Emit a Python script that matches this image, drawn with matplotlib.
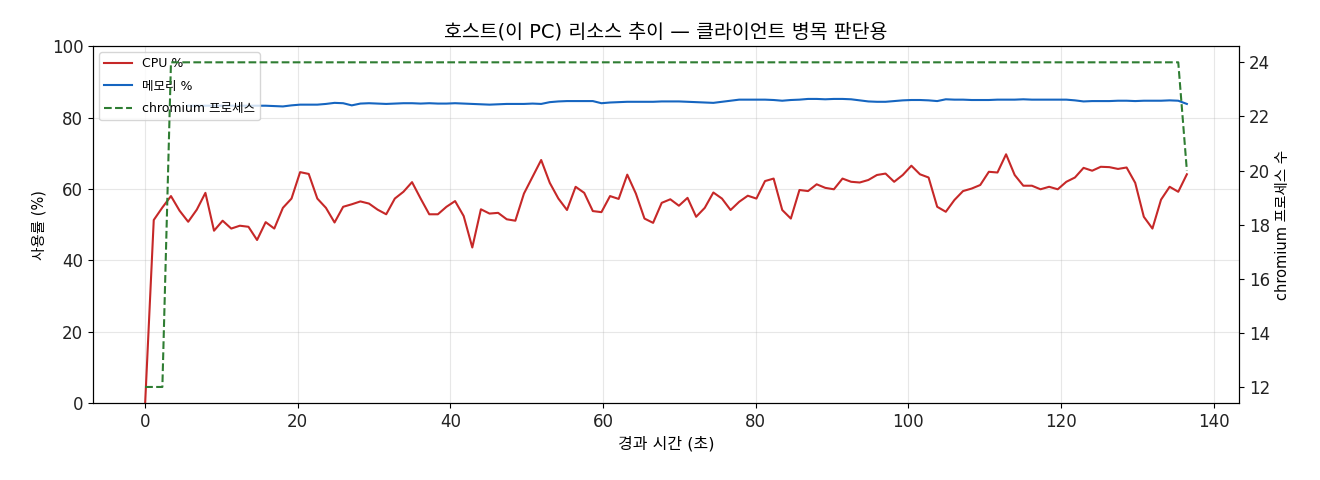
import numpy as np
import matplotlib
matplotlib.use("Agg")
import matplotlib.pyplot as plt

plt.rcParams['font.family'] = ['DejaVu Sans', 'Noto Sans CJK KR']
plt.rcParams['axes.unicode_minus'] = False

sample_interval = 1.128

cpu = [0.0, 51.3, 54.8, 58.0, 53.9, 50.8, 54.2, 58.9, 48.3, 51.1,
       48.9, 49.7, 49.4, 45.7, 50.7, 48.9, 54.7, 57.3, 64.7, 64.2,
       57.3, 54.7, 50.6, 55.0, 55.7, 56.5, 55.9, 54.2, 52.9, 57.3,
       59.2, 61.9, 57.3, 52.9, 52.9, 55.0, 56.6, 52.4, 43.6, 54.3,
       53.1, 53.3, 51.5, 51.1, 58.7, 63.4, 68.1, 61.7, 57.3, 54.1,
       60.6, 58.9, 53.8, 53.5, 58.0, 57.2, 64.0, 58.7, 51.7, 50.5,
       56.1, 57.1, 55.3, 57.5, 52.2, 54.7, 59.0, 57.3, 54.1, 56.4,
       58.1, 57.3, 62.2, 62.9, 54.1, 51.7, 59.7, 59.4, 61.3, 60.3,
       59.9, 62.9, 62.0, 61.8, 62.5, 63.9, 64.3, 62.0, 63.9, 66.5,
       64.1, 63.2, 55.0, 53.6, 56.9, 59.4, 60.1, 61.1, 64.8, 64.6,
       69.7, 63.9, 60.9, 60.9, 59.9, 60.6, 59.9, 62.0, 63.2, 65.9,
       65.1, 66.2, 66.1, 65.6, 66.0, 61.7, 52.2, 48.9, 57.0, 60.6,
       59.2, 64.1]

memory = [np.nan, np.nan, np.nan, np.nan, np.nan, 83.3, 83.3, 83.3, 83.3, 83.3,
          83.3, 83.3, 83.3, 83.3, 83.3, 83.2, 83.1, 83.4, 83.6, 83.6,
          83.6, 83.8, 84.1, 84.0, 83.4, 83.9, 84.0, 83.9, 83.8, 83.9,
          84.0, 84.0, 83.9, 84.0, 83.9, 83.9, 84.0, 83.9, 83.8, 83.7,
          83.6, 83.7, 83.8, 83.8, 83.8, 83.9, 83.8, 84.3, 84.5, 84.6,
          84.6, 84.6, 84.6, 84.0, 84.2, 84.3, 84.4, 84.4, 84.4, 84.4,
          84.5, 84.5, 84.5, 84.4, 84.3, 84.2, 84.1, 84.4, 84.7, 85.0,
          85.0, 85.0, 85.0, 84.9, 84.7, 84.9, 85.0, 85.2, 85.2, 85.1,
          85.2, 85.2, 85.1, 84.8, 84.5, 84.4, 84.4, 84.6, 84.8, 84.9,
          84.9, 84.8, 84.6, 85.1, 85.0, 85.0, 84.9, 84.9, 84.9, 85.0,
          85.0, 85.0, 85.1, 85.0, 85.0, 85.0, 85.0, 85.0, 84.8, 84.5,
          84.6, 84.6, 84.6, 84.7, 84.7, 84.6, 84.7, 84.7, 84.7, 84.8,
          84.7, 83.8]

chromium = [12, 12, 12] + [24] * 118 + [20]

elapsed = np.arange(len(cpu)) * sample_interval

fig, ax = plt.subplots(figsize=(13.2, 4.8), dpi=100)
l1, = ax.plot(elapsed, cpu, color='#c62828', lw=1.5, label='CPU %')
l2, = ax.plot(elapsed, memory, color='#1565c0', lw=1.5, label='메모리 %')
ax.set_ylim(0, 100)
ax.set_xlabel('경과 시간 (초)', fontsize=11.5)
ax.set_ylabel('사용률 (%)', fontsize=10.5)
ax.grid(True, alpha=0.3)
ax.set_xticks([0, 20, 40, 60, 80, 100, 120, 140])
ax.tick_params(labelsize=12, labelcolor='#222222')

ax2 = ax.twinx()
l3, = ax2.plot(elapsed, chromium, color='#2e7d32', lw=1.5, ls='--', label='chromium 프로세스')
ax2.set_ylabel('chromium 프로세스 수', fontsize=10.5)
ax2.tick_params(labelsize=12, labelcolor='#222222')

ax.legend(handles=[l1, l2, l3], loc='upper left', fontsize=9,
          labelspacing=0.75, handlelength=2.2)
ax.set_title('호스트(이 PC) 리소스 추이 — 클라이언트 병목 판단용', fontsize=14)

fig.subplots_adjust(left=0.0705, right=0.9386, top=0.904, bottom=0.16)
fig.savefig('out.png', dpi=100)
